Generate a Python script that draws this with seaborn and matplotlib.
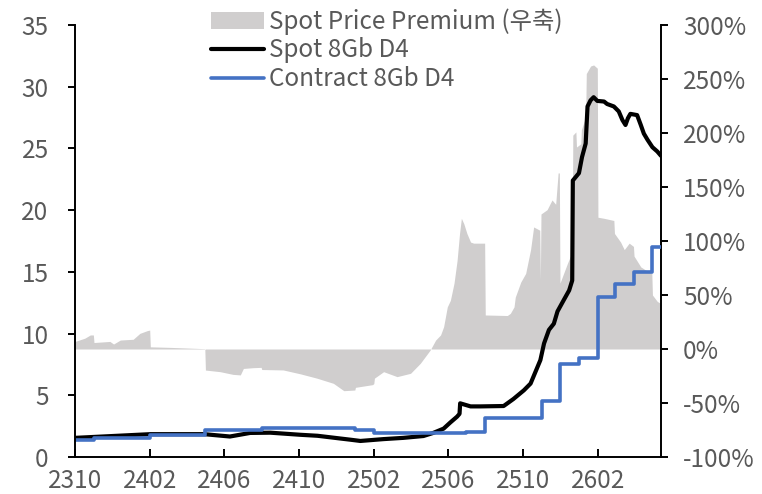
import numpy as np
import pandas as pd
import matplotlib
matplotlib.use("Agg")
import matplotlib.pyplot as plt
import matplotlib.dates as mdates
import matplotlib.patches as mpatches
from matplotlib.lines import Line2D
from matplotlib.ticker import FuncFormatter, MultipleLocator
import seaborn as sns

# ---------------------
# Data
# ---------------------
spot_dates = [
    "2023-10-01", "2024-02-01", "2024-04-29", "2024-06-10", "2024-07-13", "2024-08-15",
    "2024-10-03", "2024-10-31", "2024-12-07", "2024-12-24", "2025-01-09", "2025-02-16",
    "2025-03-20", "2025-04-22", "2025-05-08", "2025-05-25", "2025-06-05", "2025-06-16",
    "2025-06-20", "2025-06-21", "2025-07-08", "2025-07-24", "2025-08-31", "2025-09-16",
    "2025-10-03", "2025-10-14", "2025-10-22", "2025-10-30", "2025-11-05", "2025-11-13",
    "2025-11-21", "2025-11-27", "2025-12-07", "2025-12-16", "2025-12-21", "2025-12-22",
    "2026-01-01", "2026-01-06", "2026-01-12", "2026-01-15", "2026-01-20", "2026-01-25",
    "2026-01-31", "2026-02-11", "2026-02-16", "2026-02-27", "2026-03-07", "2026-03-13",
    "2026-03-18", "2026-03-22", "2026-03-26", "2026-04-06", "2026-04-12", "2026-04-17",
    "2026-04-23", "2026-05-01", "2026-05-09", "2026-05-15",
]
spot_values = [
    1.55, 1.85, 1.85, 1.66, 1.95, 1.97,
    1.80, 1.72, 1.50, 1.40, 1.30, 1.45,
    1.55, 1.70, 1.95, 2.30, 2.80, 3.27,
    3.50, 4.35, 4.10, 4.10, 4.13, 4.70,
    5.40, 5.95, 6.90, 7.85, 9.20, 10.30,
    10.80, 11.80, 12.70, 13.50, 14.30, 22.40,
    23.00, 24.30, 25.40, 28.40, 28.90, 29.15,
    28.85, 28.80, 28.60, 28.40, 28.00, 27.30,
    26.90, 27.45, 27.80, 27.70, 26.90, 26.20,
    25.70, 25.10, 24.75, 24.40,
]

contract_dates = [
    "2023-10-01", "2023-11-01", "2024-02-01", "2024-05-01", "2024-08-01", "2025-01-01",
    "2025-02-01", "2025-07-01", "2025-08-01", "2025-11-01", "2025-12-01", "2026-01-01",
    "2026-02-01", "2026-03-01", "2026-04-01", "2026-05-01", "2026-05-15",
]
contract_values = [
    1.35, 1.50, 1.80, 2.20, 2.33, 2.17,
    1.98, 2.05, 3.13, 4.50, 7.51, 8.05,
    13.00, 14.05, 15.00, 17.05, 17.05,
]

premium_dates = [
    "2023-10-01", "2023-10-17", "2023-10-26", "2023-10-31", "2023-11-01", "2023-11-27",
    "2023-12-03", "2023-12-14", "2024-01-04", "2024-01-15", "2024-01-27", "2024-01-31",
    "2024-02-01", "2024-03-04", "2024-04-06", "2024-04-30", "2024-05-01", "2024-05-25",
    "2024-06-15", "2024-06-27", "2024-07-02", "2024-07-18", "2024-07-31", "2024-08-01",
    "2024-09-05", "2024-10-03", "2024-10-30", "2024-11-26", "2024-12-13", "2024-12-31",
    "2025-01-01", "2025-01-29", "2025-01-31", "2025-02-01", "2025-02-16", "2025-03-10",
    "2025-04-01", "2025-04-17", "2025-05-03", "2025-05-12", "2025-05-20", "2025-05-25",
    "2025-05-31", "2025-06-05", "2025-06-11", "2025-06-16", "2025-06-20", "2025-06-23",
    "2025-06-27", "2025-07-02", "2025-07-08", "2025-07-13", "2025-07-31", "2025-08-01",
    "2025-09-06", "2025-09-11", "2025-09-17", "2025-09-19", "2025-09-28", "2025-10-06",
    "2025-10-14", "2025-10-19", "2025-10-29", "2025-10-30", "2025-10-31", "2025-11-10",
    "2025-11-18", "2025-11-24", "2025-11-28", "2025-11-30", "2025-12-01", "2025-12-13",
    "2025-12-21", "2025-12-22", "2025-12-27", "2025-12-28", "2026-01-04", "2026-01-05",
    "2026-01-12", "2026-01-13", "2026-01-20", "2026-01-25", "2026-01-31", "2026-02-01",
    "2026-02-11", "2026-02-27", "2026-02-28", "2026-03-10", "2026-03-16", "2026-03-24",
    "2026-03-31", "2026-04-01", "2026-04-12", "2026-04-23", "2026-04-30", "2026-05-01",
    "2026-05-09", "2026-05-15",
]
premium_values = [
    7, 10, 13, 13, 6, 7,
    4.6, 8.3, 9, 14.5, 17, 17.5,
    2, 1.5, 0.8, 0.3, -19.5, -21,
    -23.5, -24, -18, -17.3, -17, -19,
    -19.4, -23, -27, -31.8, -38.6, -38,
    -35.5, -33, -32, -27, -21, -25.6,
    -22.5, -13.2, -1, 8.3, 13, 20.6,
    39, 45, 61, 82, 107, 121,
    116, 107, 99, 98, 98, 31.5,
    31, 33, 39, 48, 62, 70,
    92, 113, 110, 64, 125, 129,
    138, 134, 163, 163, 61, 79,
    90, 198, 201, 187, 190, 203,
    215, 255, 262, 263, 260, 122,
    121, 119, 107, 99, 92, 98,
    95, 86, 76, 72, 70, 50,
    44, 42,
]

# ---------------------
# Styling
# ---------------------
sns.set_style("white")
plt.rcParams['font.family'] = ['Noto Sans CJK KR', 'DejaVu Sans']
TEXT_GREY = "#595959"
FILL_GREY = "#D0CECE"
BLUE = "#4472C4"
FS = 17.5

spot = pd.DataFrame({"date": pd.to_datetime(spot_dates), "value": spot_values})
contract = pd.DataFrame({"date": pd.to_datetime(contract_dates), "value": contract_values})
premium = pd.DataFrame({"date": pd.to_datetime(premium_dates), "value": premium_values})

fig = plt.figure(figsize=(7.62, 4.94), dpi=100)
ax = fig.add_axes([75 / 762, 37 / 494, 586 / 762, 432 / 494])
ax2 = ax.twinx()

# premium area on right axis, drawn behind the lines
ax2.fill_between(premium["date"], premium["value"], 0, color=FILL_GREY, linewidth=0)
ax.set_zorder(ax2.get_zorder() + 1)
ax.patch.set_visible(False)

sns.lineplot(data=spot, x="date", y="value", ax=ax, color="black", linewidth=3.0)
sns.lineplot(data=contract, x="date", y="value", ax=ax, color=BLUE, linewidth=2.6,
             drawstyle="steps-post")

ax.set_xlim(pd.Timestamp("2023-10-01"), pd.Timestamp("2026-05-15"))
ax.set_ylim(0, 35)
ax2.set_ylim(-100, 300)
ax.yaxis.set_major_locator(MultipleLocator(5))
ax2.yaxis.set_major_locator(MultipleLocator(50))
ax2.yaxis.set_major_formatter(FuncFormatter(lambda v, p: f"{v:.0f}%"))
ax.xaxis.set_major_locator(mdates.MonthLocator(bymonth=[2, 6, 10]))
ax.xaxis.set_major_formatter(mdates.DateFormatter("%y%m"))
ax.set_xlabel("")
ax.set_ylabel("")

for a in (ax, ax2):
    a.spines["top"].set_visible(False)
    for side in ("left", "right", "bottom"):
        a.spines[side].set_color("black")
        a.spines[side].set_linewidth(1.4)
ax.spines["right"].set_visible(False)
ax2.spines["left"].set_visible(False)
ax2.spines["bottom"].set_visible(False)

ax.tick_params(axis="y", direction="out", length=5, width=1.4, color="black",
               labelsize=FS, labelcolor=TEXT_GREY, pad=14, left=True)
ax.tick_params(axis="x", direction="in", length=6, width=1.4, color="black",
               labelsize=FS, labelcolor=TEXT_GREY, pad=8, bottom=True)
ax2.tick_params(axis="y", direction="out", length=5, width=1.4, color="black",
                labelsize=FS, labelcolor=TEXT_GREY, pad=11, right=True)

handles = [
    mpatches.Patch(facecolor=FILL_GREY, edgecolor="none"),
    Line2D([], [], color="black", linewidth=3.0),
    Line2D([], [], color=BLUE, linewidth=2.6),
]
labels = ["Spot Price Premium (우축)", "Spot 8Gb D4", "Contract 8Gb D4"]
fig.legend(handles, labels, loc="upper left", bbox_to_anchor=(211 / 762, 1 - 8 / 494),
           frameon=False, fontsize=FS, labelcolor=TEXT_GREY, handlelength=2.2,
           handletextpad=0.2, labelspacing=0.12, borderpad=0, borderaxespad=0)

fig.savefig("out.png", dpi=100)
